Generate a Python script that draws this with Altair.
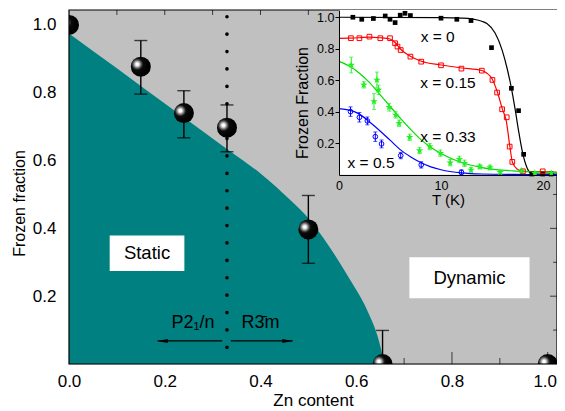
import altair as alt
import pandas as pd

# ---------------- main panel values ----------------
ZN_CONTENT = [0.0, 0.15, 0.24, 0.33, 0.50, 0.655, 1.0]
FROZEN_FRACTION = [1.0, 0.877, 0.740, 0.697, 0.397, 0.0, 0.0]
ERR_LOW = [None, 0.796, 0.667, 0.626, 0.297, -0.10, None]
ERR_HIGH = [None, 0.954, 0.806, 0.764, 0.497, 0.099, None]

BOUNDARY_ZN = [0.0, 0.10, 0.20, 0.30, 0.334, 0.40, 0.465, 0.50, 0.541, 0.583, 0.624, 0.645, 0.659]
BOUNDARY_FRAC = [0.975, 0.872, 0.768, 0.665, 0.630, 0.562, 0.480, 0.430, 0.352, 0.258, 0.155, 0.080, 0.0]

STRUCTURE_BOUNDARY = [0.33]

X_LABELS = [0.0, 0.2, 0.4, 0.6, 0.8, 1.0]
Y_LABELS = [0.2, 0.4, 0.6, 0.8, 1.0]
MAJOR_STEPS = [0.2, 0.4, 0.6, 0.8, 1.0]
MINOR_STEPS = [0.1, 0.3, 0.5, 0.7, 0.9]
X_MAX = 1.0194
Y_MAX = 1.044

REGION_NAMES = ["Static", "Dynamic"]
REGION_X0 = [0.085, 0.711]
REGION_X1 = [0.241, 0.962]
REGION_Y0 = [0.274, 0.194]
REGION_Y1 = [0.379, 0.315]

PHASE_NAMES = ["P2\u2081/n", "R3\u0304m"]
PHASE_X = [0.259, 0.400]
PHASE_Y = [0.121, 0.121]
ARROW_FROM = [0.320, 0.338]
ARROW_TO = [0.185, 0.467]
ARROW_Y = [0.068, 0.068]

# ---------------- inset values ----------------
T_MAX = 21.37
F_MAX = 1.046

BLACK_T = [1.36, 2.23, 3.37, 4.53, 5.0, 5.5, 6.0, 6.47, 7.0, 10.0, 11.55, 12.94, 14.95, 16.9, 17.6, 18.1, 18.9, 19.97, 20.8]
BLACK_F = [1.0, 0.987, 0.992, 1.008, 0.987, 0.966, 1.013, 1.025, 1.011, 0.994, 0.987, 0.979, 0.807, 0.549, 0.407, 0.130, 0.005, 0.005, 0.005]
BLACK_FIT_T = [0, 10, 12, 13, 14, 14.5, 15.3, 16, 16.5, 16.9, 17.28, 17.6, 18.03, 18.4, 18.8, 19.5, 21.37]
BLACK_FIT_F = [1.0, 0.998, 0.995, 0.99, 0.975, 0.96, 0.90, 0.79, 0.67, 0.55, 0.41, 0.28, 0.13, 0.05, 0.012, 0.005, 0.005]

RED_T = [1.17, 2.0, 2.98, 4.05, 5.0, 5.5, 5.73, 6.05, 7.0, 8.06, 10.0, 12.0, 14.0, 15.04, 15.5, 15.99, 16.44, 16.73, 16.99, 18.03, 19.97]
RED_F = [0.867, 0.867, 0.877, 0.867, 0.867, 0.835, 0.814, 0.792, 0.750, 0.718, 0.695, 0.674, 0.661, 0.602, 0.522, 0.416, 0.365, 0.179, 0.082, 0.022, 0.022]
RED_FIT_T = [0, 1, 2, 3, 4, 5, 5.5, 6, 7, 8, 10, 12, 14, 14.5, 15, 15.5, 16, 16.4, 16.75, 17.0, 17.5, 18, 20, 21.37]
RED_FIT_F = [0.866, 0.867, 0.87, 0.874, 0.87, 0.862, 0.84, 0.80, 0.752, 0.722, 0.697, 0.678, 0.662, 0.645, 0.61, 0.53, 0.42, 0.34, 0.18, 0.08, 0.035, 0.022, 0.02, 0.015]

GREEN_T = [1.2, 2.43, 3.43, 3.72, 3.88, 4.92, 5.56, 5.89, 6.93, 7.9, 8.9, 9.94, 10.9, 11.8, 12.3, 12.94, 13.8, 14.8, 15.8, 17.9, 19.2, 20.8]
GREEN_F = [0.697, 0.571, 0.465, 0.602, 0.539, 0.429, 0.380, 0.327, 0.238, 0.154, 0.179, 0.137, 0.077, 0.098, 0.073, 0.031, 0.052, 0.046, 0.016, 0.026, 0.010, 0.010]
GREEN_ERR = [0.05, 0.02, 0.05, 0.05, 0.03, 0.025, 0.02, 0.02, 0.02, 0.02, 0.02, 0.02, 0.02, 0.02, 0.02, 0.015, 0.015, 0.015, 0.01, 0.01, 0.01, 0.01]
GREEN_FIT_T = [0, 1, 2, 3, 4, 5, 6, 7, 8, 9, 10, 12, 14, 17, 21.37]
GREEN_FIT_F = [0.72, 0.69, 0.645, 0.585, 0.51, 0.435, 0.36, 0.29, 0.225, 0.175, 0.135, 0.078, 0.046, 0.025, 0.015]

BLUE_T = [1.13, 2.0, 2.78, 3.56, 4.17, 6.05, 8.06, 12.0]
BLUE_F = [0.401, 0.365, 0.342, 0.242, 0.196, 0.122, 0.063, 0.016]
BLUE_ERR = [0.03, 0.03, 0.025, 0.03, 0.025, 0.02, 0.02, 0.015]
BLUE_FIT_T = [0, 1, 2, 3, 4, 5, 6, 7, 8, 9, 10, 12, 14, 18, 21.37]
BLUE_FIT_F = [0.42, 0.41, 0.385, 0.335, 0.28, 0.22, 0.16, 0.115, 0.078, 0.05, 0.032, 0.012, 0.005, 0.002, 0.001]

INSET_LABELS = ["x = 0", "x = 0.15", "x = 0.33", "x = 0.5"]
INSET_LABEL_T = [9.67, 10.68, 10.68, 3.14]
INSET_LABEL_F = [0.877, 0.581, 0.242, 0.073]

FONT = "Liberation Sans"
TEAL = "#008080"
GRAY = "#c0c0c0"

# ---------------- scales / axes ----------------
SX = alt.Scale(domain=[0, X_MAX], nice=False, zero=False)
SY = alt.Scale(domain=[0, Y_MAX], nice=False, zero=False)
AX = alt.Axis(values=X_LABELS, format=".1f", title="Zn content", ticks=False, domain=False,
              grid=False, labelFontSize=17, titleFontSize=17, labelPadding=9, titlePadding=3,
              labelFont=FONT, titleFont=FONT, titleFontWeight="normal", labelColor="black",
              titleColor="black", labelFlush=False,
              labelOffset={"condition": {"test": "datum.value >= 0.99", "value": -3}, "value": 0})
AY = alt.Axis(values=Y_LABELS, format=".1f", title="Frozen fraction", ticks=False, domain=False,
              grid=False, labelFontSize=17, titleFontSize=16, labelPadding=13, titlePadding=5,
              labelFont=FONT, titleFont=FONT, titleFontWeight="normal", labelColor="black",
              titleColor="black", titleY=193, labelFlush=False)


def mx(f):
    return alt.X(f, type="quantitative", scale=SX, axis=AX)


def my(f):
    return alt.Y(f, type="quantitative", scale=SY, axis=AY)


ISX = alt.Scale(domain=[0, T_MAX], range=[270, 488], nice=False, zero=False)
ISY = alt.Scale(domain=[0, F_MAX], range=[164.8, 0], nice=False, zero=False)
IAX = alt.Axis(orient="bottom", offset=-189, values=[0, 10, 20], format="d", title="T (K)",
               ticks=False, domain=True, domainColor="black", domainWidth=1, grid=False,
               labelFontSize=12.5, titleFontSize=15, labelPadding=4, titlePadding=1,
               labelFont=FONT, titleFont=FONT, titleFontWeight="normal", labelColor="black",
               titleColor="black", labelFlush=False, zindex=1)
IAY = alt.Axis(orient="left", offset=-270, values=[0.2, 0.4, 0.6, 0.8, 1.0], format=".1f",
               title="Frozen Fraction", ticks=True, tickSize=4, tickColor="black", domain=True,
               domainColor="black", domainWidth=1, grid=False, labelFontSize=12.5,
               titleFontSize=16, labelPadding=1, titlePadding=6, labelFont=FONT,
               titleFont=FONT, titleFontWeight="normal", labelColor="black", titleColor="black",
               titleY=92.5, labelFlush=False, zindex=1)


def ix(f):
    return alt.X(f, type="quantitative", scale=ISX, axis=IAX)


def iy(f):
    return alt.Y(f, type="quantitative", scale=ISY, axis=IAY)


# ---------------- main panel layers ----------------
pts = pd.DataFrame({"x": ZN_CONTENT, "f": FROZEN_FRACTION, "lo": ERR_LOW, "hi": ERR_HIGH})
err = pts.dropna()
caps = pd.DataFrame({"x": list(err["x"]) * 2, "y": list(err["lo"]) + list(err["hi"])})
bound = pd.DataFrame({"x": BOUNDARY_ZN, "f": BOUNDARY_FRAC})

frame = pd.DataFrame({"x0": [0.0], "x1": [X_MAX], "y0": [0.0], "y1": [Y_MAX]})
top_ticks = pd.DataFrame({"x": MAJOR_STEPS + MINOR_STEPS, "edge": [Y_MAX] * 10})
bot_major = pd.DataFrame({"x": MAJOR_STEPS, "edge": [0.0] * 5})
bot_minor = pd.DataFrame({"x": MINOR_STEPS, "edge": [0.0] * 5})
right_major = pd.DataFrame({"y": MAJOR_STEPS, "edge": [X_MAX] * 5})
right_minor = pd.DataFrame({"y": MINOR_STEPS, "edge": [X_MAX] * 5})

layers = []
layers.append(alt.Chart(frame).mark_rect(fill=GRAY, opacity=1)
              .encode(x=mx("x0"), x2=alt.X2("x1"), y=my("y0"), y2=alt.Y2("y1")))
layers.append(alt.Chart(top_ticks).mark_tick(orient="vertical", size=10, thickness=1, color="black", clip=True)
              .encode(x=mx("x"), y=my("edge")))
layers.append(alt.Chart(bot_major).mark_tick(orient="vertical", size=24, thickness=1, color="black", clip=True)
              .encode(x=mx("x"), y=my("edge")))
layers.append(alt.Chart(bot_minor).mark_tick(orient="vertical", size=12, thickness=1, color="black", clip=True)
              .encode(x=mx("x"), y=my("edge")))
layers.append(alt.Chart(right_major).mark_tick(orient="horizontal", size=14, thickness=1, color="black", clip=True)
              .encode(x=mx("edge"), y=my("y")))
layers.append(alt.Chart(right_minor).mark_tick(orient="horizontal", size=8, thickness=1, color="black", clip=True)
              .encode(x=mx("edge"), y=my("y")))

layers.append(alt.Chart(bound).mark_area(color=TEAL, opacity=1, interpolate="monotone", clip=True)
              .encode(x=mx("x"), y=my("f")))

layers.append(alt.Chart(pd.DataFrame({"x": STRUCTURE_BOUNDARY})).mark_rule(
    color="black", strokeWidth=3.6, strokeDash=[0.1, 17.3], strokeCap="round", strokeDashOffset=10.7)
    .encode(x=mx("x")))

arrows = pd.DataFrame({"x0": ARROW_FROM, "x1": ARROW_TO, "y": ARROW_Y})
layers.append(alt.Chart(arrows).mark_rule(color="black", strokeWidth=1.2)
              .encode(x=mx("x0"), x2=alt.X2("x1"), y=my("y")))
heads = pd.DataFrame({"x": ARROW_TO, "y": ARROW_Y, "dir": ["left", "right"]})
layers.append(alt.Chart(heads[heads["dir"] == "left"]).mark_point(
    shape="M-1,0L1,-0.38L1,0.38Z", filled=True, size=110, color="black", opacity=1, xOffset=5)
    .encode(x=mx("x"), y=my("y")))
layers.append(alt.Chart(heads[heads["dir"] == "right"]).mark_point(
    shape="M1,0L-1,-0.38L-1,0.38Z", filled=True, size=110, color="black", opacity=1, xOffset=-5)
    .encode(x=mx("x"), y=my("y")))

phases = pd.DataFrame({"name": PHASE_NAMES, "x": PHASE_X, "y": PHASE_Y})
layers.append(alt.Chart(phases).mark_text(font=FONT, fontSize=18, color="black")
              .encode(x=mx("x"), y=my("y"), text="name:N"))

regions = pd.DataFrame({"name": REGION_NAMES, "x0": REGION_X0, "x1": REGION_X1,
                        "y0": REGION_Y0, "y1": REGION_Y1})
regions["xc"] = (regions["x0"] + regions["x1"]) / 2
regions["yc"] = (regions["y0"] + regions["y1"]) / 2
layers.append(alt.Chart(regions).mark_rect(color="white", opacity=1)
              .encode(x=mx("x0"), x2=alt.X2("x1"), y=my("y0"), y2=alt.Y2("y1")))
layers.append(alt.Chart(regions).mark_text(font=FONT, fontSize=18.5, color="black")
              .encode(x=mx("xc"), y=my("yc"), text="name:N"))

layers.append(alt.Chart(err).mark_rule(color="black", strokeWidth=1.4, clip=True)
              .encode(x=mx("x"), y=my("lo"), y2=alt.Y2("hi")))
layers.append(alt.Chart(caps).mark_tick(orient="horizontal", size=13, thickness=1.4, color="black", clip=True)
              .encode(x=mx("x"), y=my("y")))

BALL = {
    "gradient": "radial",
    "x1": 0.32, "y1": 0.38, "r1": 0,
    "x2": 0.32, "y2": 0.38, "r2": 0.55,
    "stops": [
        {"offset": 0.0, "color": "#ffffff"},
        {"offset": 0.13, "color": "#ffffff"},
        {"offset": 0.24, "color": "#b4b4b4"},
        {"offset": 0.38, "color": "#5a5a5a"},
        {"offset": 0.52, "color": "#0c0c0c"},
        {"offset": 1.0, "color": "#000000"},
    ],
}
layers.append(alt.Chart(pts).mark_point(shape="circle", filled=True, fill=BALL, size=400, opacity=1,
                                        strokeWidth=0, clip=True)
              .encode(x=mx("x"), y=my("f")))

# frame drawn on top of fills
layers.append(alt.Chart(frame).mark_rect(fill="transparent", stroke="black", strokeWidth=1.2)
              .encode(x=mx("x0"), x2=alt.X2("x1"), y=my("y0"), y2=alt.Y2("y1")))

main = alt.layer(*layers)

# ---------------- inset layers ----------------
ilayers = []
bg = pd.DataFrame({"t0": [0.0], "t1": [T_MAX], "f0": [0.0], "f1": [F_MAX]})
ilayers.append(alt.Chart(bg).mark_rect(color="white", opacity=1)
               .encode(x=ix("t0"), x2=alt.X2("t1"), y=iy("f0"), y2=alt.Y2("f1")))

series = [
    (BLACK_FIT_T, BLACK_FIT_F, "#000000"),
    (RED_FIT_T, RED_FIT_F, "#ff0000"),
    (GREEN_FIT_T, GREEN_FIT_F, "#00dd00"),
    (BLUE_FIT_T, BLUE_FIT_F, "#0000ff"),
]
for t, f, c in series:
    ilayers.append(alt.Chart(pd.DataFrame({"t": t, "f": f})).mark_line(
        color=c, strokeWidth=1.2, interpolate="monotone").encode(x=ix("t"), y=iy("f")))

for t, f, e, c in [(GREEN_T, GREEN_F, GREEN_ERR, "#22ee22"), (BLUE_T, BLUE_F, BLUE_ERR, "#0000ff")]:
    d = pd.DataFrame({"t": t, "f": f, "e": e})
    d["lo"] = d["f"] - d["e"]
    d["hi"] = d["f"] + d["e"]
    ilayers.append(alt.Chart(d).mark_rule(color=c, strokeWidth=1)
                   .encode(x=ix("t"), y=iy("lo"), y2=alt.Y2("hi")))
    dc = pd.DataFrame({"t": list(t) * 2, "y": list(d["lo"]) + list(d["hi"])})
    ilayers.append(alt.Chart(dc).mark_tick(orient="horizontal", size=4, thickness=1, color=c)
                   .encode(x=ix("t"), y=iy("y")))

ilayers.append(alt.Chart(pd.DataFrame({"t": BLACK_T, "f": BLACK_F})).mark_point(
    shape="square", filled=True, size=22, color="black", opacity=1).encode(x=ix("t"), y=iy("f")))
ilayers.append(alt.Chart(pd.DataFrame({"t": RED_T, "f": RED_F})).mark_point(
    shape="square", filled=False, size=22, color="#ff0000", strokeWidth=1, opacity=1)
    .encode(x=ix("t"), y=iy("f")))
ilayers.append(alt.Chart(pd.DataFrame({"t": GREEN_T, "f": GREEN_F})).mark_point(
    shape="M0,-1L0.24,-0.33L0.95,-0.31L0.38,0.12L0.59,0.81L0,0.4L-0.59,0.81L-0.38,0.12L-0.95,-0.31L-0.24,-0.33Z",
    filled=True, size=60, color="#22ee22", opacity=1).encode(x=ix("t"), y=iy("f")))
ilayers.append(alt.Chart(pd.DataFrame({"t": BLUE_T, "f": BLUE_F})).mark_point(
    shape="circle", filled=False, size=22, color="#0000ff", strokeWidth=1, opacity=1)
    .encode(x=ix("t"), y=iy("f")))

ilayers.append(alt.Chart(pd.DataFrame({"lab": INSET_LABELS, "t": INSET_LABEL_T, "f": INSET_LABEL_F}))
               .mark_text(font=FONT, fontSize=15.5, color="black")
               .encode(x=ix("t"), y=iy("f"), text="lab:N"))

inset = alt.layer(*ilayers)

chart = (
    alt.layer(main, inset)
    .resolve_scale(x="independent", y="independent")
    .properties(width=488, height=354, autosize=alt.AutoSizeParams(type="none"),
                padding={"left": 61, "top": 2, "right": 0, "bottom": 45})
    .configure_view(stroke=None, fill=GRAY)
    .configure(background="white")
)

chart.save("out.html", embed_options={"renderer": "svg", "actions": False})
